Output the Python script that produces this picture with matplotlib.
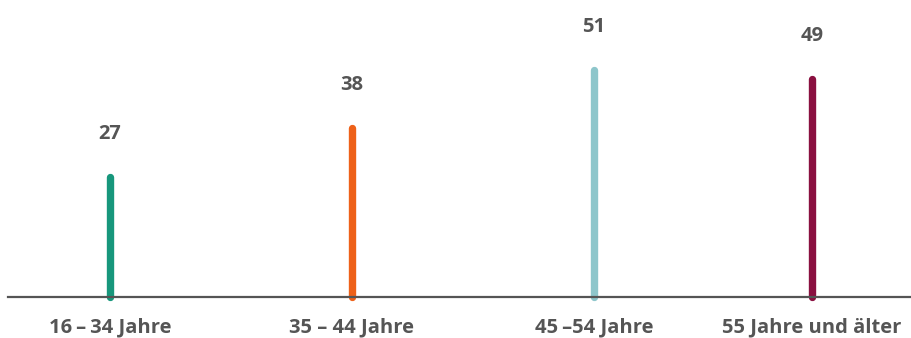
import matplotlib.pyplot as plt

categories = ['16\u2009\u2013\u200934 Jahre', '35 \u2013 44 Jahre', '45\u2009\u201354 Jahre', '55 Jahre und älter']
values = [27, 38, 51, 49]
colors = ['#17977c', '#ee6119', '#8ec6cb', '#8a1040']
xpos = [0, 1, 2, 2.9]

plt.rcParams['font.family'] = ['Open Sans', 'DejaVu Sans']
text_color = '#555555'
scale = 4.45  # px per unit

fig = plt.figure(figsize=(9.12, 3.38), dpi=100)
ax = fig.add_axes([0, 0, 1, 1])

for x, v, c in zip(xpos, values, colors):
    ax.plot([x, x], [0, v], color=c, lw=5.3, solid_capstyle='round', zorder=2)
    ax.annotate(str(v), (x, v), xytext=(0, 31), textcoords='offset points',
                ha='center', va='center', fontsize=14.5, fontweight='bold', color=text_color)

for x, lab in zip(xpos, categories):
    ax.annotate(lab, (x, 0), xytext=(0, -22), textcoords='offset points',
                ha='center', va='center', fontsize=14.5, fontweight='bold', color=text_color)

ax.axhline(0, xmin=8 / 912, xmax=1, color=text_color, lw=1.6, zorder=3)

ax.set_xlim(-110 / 242, (912 - 110) / 242)
ax.set_ylim(-41 / scale, (338 - 41) / scale)
ax.axis('off')

fig.savefig('out.png', dpi=100)
plt.close(fig)
